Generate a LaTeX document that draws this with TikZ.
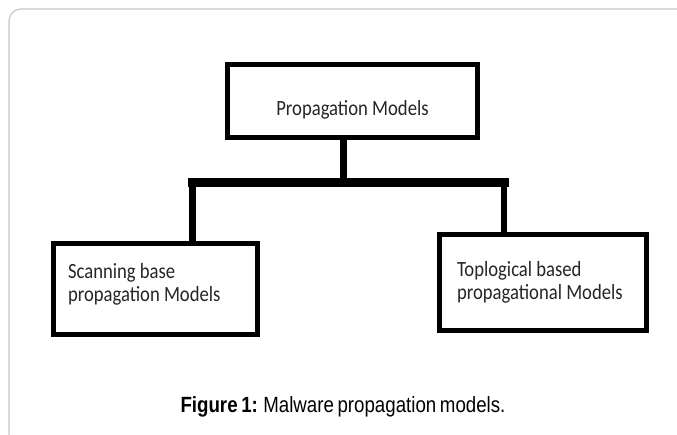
\documentclass[tikz,border=0pt]{standalone}
\usepackage{fontspec}
\setmainfont{Carlito}
\newfontfamily\boxfont[FakeStretch=0.86]{Carlito}
\newfontfamily\capfont[FakeStretch=0.85,WordSpace=0.7]{Liberation Sans}
\newcommand{\twolines}[2]{\spaceskip=0pt\xspaceskip=0pt\relax\begin{tabular}[t]{@{}l@{}}#1\\#2\end{tabular}}
\begin{document}
\begin{tikzpicture}[x=1pt,y=-1pt,
  box/.style={draw=black,line width=5pt,inner sep=0pt,
    font=\boxfont\fontsize{21.7}{23.5}\selectfont,text=black!85},
  conn/.style={draw=black,line width=6.5pt},
  bar/.style={draw=black,line width=9pt,line cap=rect},
  frame/.style={draw=black!22,line width=1.2pt,rounded corners=12pt}]
\useasboundingbox (0,0) rectangle (677,434);
\fill[white] (0,0) rectangle (677,434);
\draw[frame] (9,440) -- (9,9) -- (690,9);
\node[box,minimum width=250pt,minimum height=73pt,text height=29.4pt,text depth=0pt]
  (top) at (352.5,101) {Propagation Models};
\node[box,minimum width=204pt,minimum height=91pt,inner xsep=14.5pt,
  text width=175pt,text height=10pt,text depth=32pt] (left) at (155.5,289)
  {\twolines{Scanning base}{propagation Models}};
\node[box,minimum width=207pt,minimum height=96pt,inner xsep=17.5pt,
  text width=172pt,text height=15pt,text depth=28pt] (right) at (543,282.5)
  {\twolines{Toplogical based}{propagational Models}};
\coordinate (stem) at (343.5,182.5);
\coordinate (jl) at (192.5,182.5);
\coordinate (jr) at (504,182.5);
\draw[conn] (top.south -| stem) -- (stem);
\draw[conn] (jl) -- (jl |- left.north);
\draw[conn] (jr) -- (jr |- right.north);
\draw[bar] (jl) -- (jr);
\node[font=\capfont\fontsize{22}{26}\selectfont,inner sep=0pt,anchor=base] (cap) at (343,412)
  {\textbf{Figure 1:} Malware propagation models.};
\end{tikzpicture}
\end{document}
